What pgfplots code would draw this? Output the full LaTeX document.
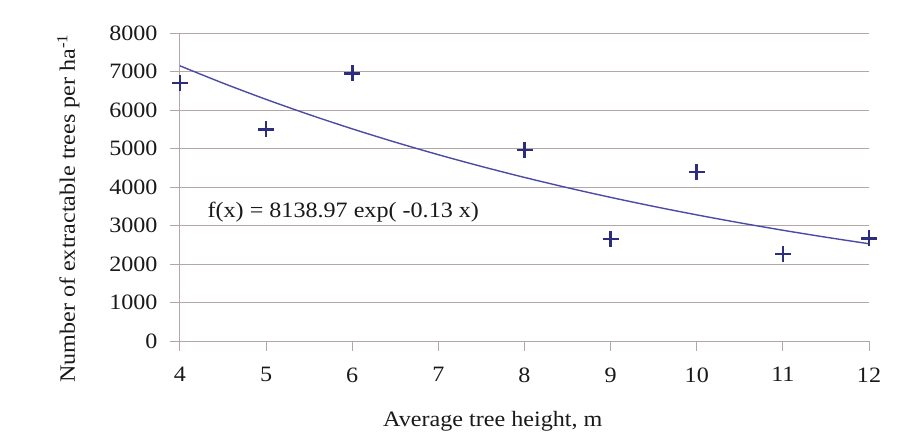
\documentclass[border=0pt]{standalone}
\usepackage{pgfplots}
\pgfplotsset{compat=1.18}
\usepackage{fontspec}
\setmainfont[FakeStretch=1.1]{Liberation Serif}
\definecolor{gridc}{RGB}{178,166,166}
\definecolor{markc}{RGB}{45,45,125}
\definecolor{linec}{RGB}{75,75,165}
\begin{document}
\begin{tikzpicture}
\useasboundingbox (-180bp,-98bp) rectangle (719bp,341bp);
\begin{axis}[
  at={(0,0)}, anchor=south west,
  scale only axis, width=689bp, height=308bp,
  xmin=4, xmax=12, ymin=0, ymax=8000,
  xtick={4,...,12}, ytick={0,1000,...,8000},
  /pgf/number format/assume math mode=true,
  /pgf/number format/1000 sep={},
  axis x line*=bottom, axis y line*=left,
  axis line style={gridc, line width=1bp},
  ymajorgrids, grid style={gridc, line width=1bp},
  tick align=outside, major tick length=10bp,
  tick style={gridc, line width=1bp},
  every tick label/.append style={font=\fontsize{22}{26}\selectfont, text=black!90},
  xticklabel style={yshift=-13bp},
  yticklabel style={xshift=-9bp},
  xlabel={Average tree height, m},
  ylabel={Number of extractable trees per ha\textsuperscript{-1}},
  label style={font=\fontsize{22}{26}\selectfont, text=black!90},
  xlabel style={at={(rel axis cs:0.454,-0.26)}, anchor=center},
  ylabel style={at={(rel axis cs:-0.162,0.43)}, anchor=center},
  clip=false,
]
\addplot[linec, line width=1.4bp, no marks, smooth] coordinates {
(4,7146.8) (4.5,6697.1) (5,6275.6) (5.5,5880.6) (6,5510.6) (6.5,5163.8)
(7,4838.8) (7.5,4534.3) (8,4248.9) (8.5,3981.5) (9,3731.0) (9.5,3496.2)
(10,3276.2) (10.5,3070.0) (11,2876.8) (11.5,2695.7) (12,2526.1)};
\addplot[only marks, mark=+, mark size=8bp, markc, mark options={line width=2.6bp}] coordinates {
(4,6700) (5,5500) (6,6950) (8,4960) (9,2650) (10,4390) (11,2260) (12,2670)};
\node[anchor=west, font=\fontsize{22}{26}\selectfont, text=black!90] at (axis cs:4.28,3350) {f(x) = 8138.97 exp( -0.13 x)};
\end{axis}
\end{tikzpicture}
\end{document}
